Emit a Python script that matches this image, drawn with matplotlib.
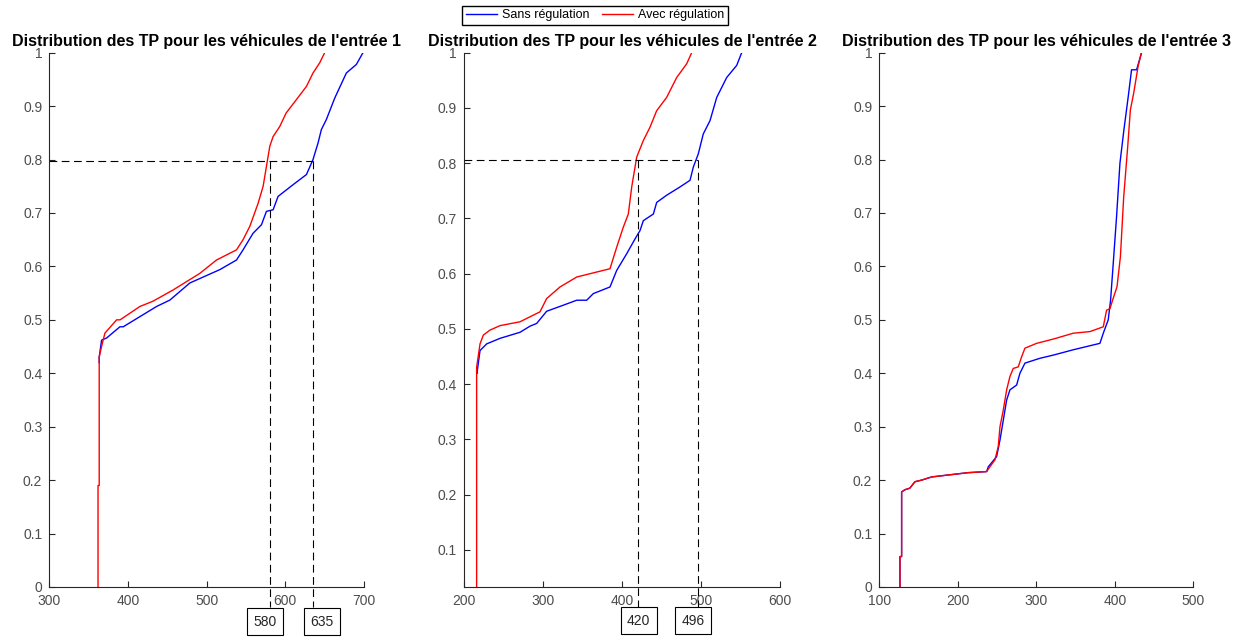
import numpy as np
import matplotlib.pyplot as plt

plt.rcParams['font.family'] = ['Liberation Sans', 'DejaVu Sans']

# Entrée 1
x1_sans = [363.5, 363.5, 366.5, 372.9, 389.8, 394, 415.2, 436.4, 453.3, 478.7, 516.8, 538, 546.3,
           559, 569.7, 576, 584.5, 590.8, 609.9, 626.9, 635.2, 641.6, 645.8, 652.2, 662.8, 677.6,
           690.3, 698.7]
y1_sans = [0.42, 0.43, 0.462, 0.466, 0.487, 0.487, 0.506, 0.525, 0.537, 0.569, 0.594, 0.612, 0.631,
           0.662, 0.678, 0.703, 0.706, 0.731, 0.753, 0.772, 0.80, 0.831, 0.856, 0.875, 0.915, 0.962,
           0.978, 1.0]
x1_avec = [362, 362, 363.5, 363.5, 366.5, 370.7, 385.6, 390, 415.2, 432, 457.5, 491.4, 512.6, 538,
           546.3, 554.9, 565.4, 571.8, 576, 580.3, 584.5, 593, 601, 614, 626.9, 635.2, 643.7, 650]
y1_avec = [0.0, 0.19, 0.19, 0.431, 0.45, 0.475, 0.5, 0.5, 0.525, 0.535, 0.556, 0.587, 0.612, 0.631,
           0.65, 0.675, 0.718, 0.75, 0.787, 0.825, 0.843, 0.862, 0.887, 0.912, 0.937, 0.962, 0.981, 1.0]

# Entrée 2
x2_sans = [216.9, 216.9, 220.3, 228.7, 245.6, 270.9, 283.5, 292, 304.6, 325.7, 342.7, 355.3, 363.7,
           384.8, 393.3, 405.9, 416.5, 422.8, 427, 439.7, 443.9, 456.5, 473.4, 486.1, 490.3, 496.6,
           502.9, 511.4, 519.9, 532.5, 545.2, 551.5]
y2_sans = [0.42, 0.425, 0.461, 0.473, 0.483, 0.494, 0.505, 0.51, 0.532, 0.543, 0.552, 0.552, 0.564,
           0.576, 0.606, 0.636, 0.663, 0.678, 0.696, 0.708, 0.729, 0.742, 0.757, 0.769, 0.793, 0.817,
           0.853, 0.877, 0.919, 0.955, 0.977, 1.0]
x2_avec = [216, 216, 220.3, 224.5, 233, 245.6, 270.9, 283.5, 296.2, 304.6, 321.5, 342.7, 359.5,
           384.8, 393.3, 401.6, 408, 412.3, 418.6, 427, 435.4, 443.9, 456.5, 469.2, 481.9, 488.2]
y2_avec = [0.0, 0.431, 0.473, 0.489, 0.498, 0.506, 0.513, 0.522, 0.531, 0.555, 0.576, 0.594, 0.6,
           0.609, 0.648, 0.684, 0.708, 0.757, 0.811, 0.841, 0.865, 0.895, 0.919, 0.955, 0.98, 1.0]

# Entrée 3
x3_sans = [126.4, 126.4, 128.5, 128.5, 132.7, 139, 145.4, 153.9, 166.8, 190.1, 213.4, 236.8, 238.9,
           249.5, 253.8, 258, 262.3, 266.5, 275, 279.2, 285.6, 304.6, 321.7, 347.2, 364.1, 381.1,
           385.4, 391.7, 394.7, 398.1, 402.3, 406.6, 411.7, 417.2, 421.4, 427.8, 434.2]
y3_sans = [0.0, 0.057, 0.057, 0.178, 0.182, 0.185, 0.197, 0.2, 0.206, 0.21, 0.214, 0.216, 0.225,
           0.244, 0.275, 0.312, 0.35, 0.369, 0.378, 0.4, 0.419, 0.428, 0.434, 0.444, 0.45, 0.456,
           0.475, 0.5, 0.537, 0.606, 0.693, 0.793, 0.856, 0.918, 0.968, 0.968, 1.0]
x3_avec = [126.4, 126.4, 128.5, 128.5, 132.7, 139, 145.4, 153.9, 166.8, 190.1, 213.4, 236.8, 241,
           247.4, 251.6, 253.8, 258, 262.3, 266.5, 270.7, 277.1, 281.4, 285.6, 300.5, 321.7, 347.2,
           368.4, 385.4, 389.6, 393.9, 397.3, 402.9, 407.2, 411.4, 416.5, 419.9, 424.1, 429.7, 433.9]
y3_avec = [0.0, 0.057, 0.057, 0.178, 0.182, 0.185, 0.197, 0.2, 0.206, 0.21, 0.214, 0.216, 0.225,
           0.238, 0.263, 0.3, 0.331, 0.369, 0.394, 0.409, 0.412, 0.431, 0.447, 0.456, 0.464, 0.475,
           0.478, 0.487, 0.518, 0.521, 0.537, 0.562, 0.618, 0.73, 0.824, 0.893, 0.924, 0.974, 1.0]

titres = ["Distribution des TP pour les véhicules de l'entrée 1",
          "Distribution des TP pour les véhicules de l'entrée 2",
          "Distribution des TP pour les véhicules de l'entrée 3"]
xlims = [(300, 700), (200, 600), (100, 500)]
ylims = [(0, 1), (0.033, 1), (0, 1)]

# seuils à 80 % : (niveau, t_avec, t_sans) et position des étiquettes
seuils = {0: (0.797, 580, 635), 1: (0.805, 420, 496)}
etiq_x = {0: (574.6, 647), 1: (421, 490)}
etiq_y = {0: -0.065, 1: -0.028}
bas_ligne = {0: -0.037, 1: -0.007}

fig = plt.figure(figsize=(12.5, 6.37), dpi=100)
positions = [[0.0394, 0.0785, 0.2518, 0.8388],
             [0.3712, 0.0785, 0.2528, 0.8388],
             [0.7034, 0.0785, 0.2512, 0.8388]]
donnees = [(x1_sans, y1_sans, x1_avec, y1_avec),
           (x2_sans, y2_sans, x2_avec, y2_avec),
           (x3_sans, y3_sans, x3_avec, y3_avec)]

gris = '#262626'
for i in range(3):
    ax = fig.add_axes(positions[i])
    xs, ys, xa, ya = donnees[i]
    l1, = ax.plot(xs, ys, color='blue', lw=1.0, label='Sans régulation')
    l2, = ax.plot(xa, ya, color='red', lw=1.0, label='Avec régulation')
    ax.set_xlim(*xlims[i])
    ax.set_ylim(*ylims[i])
    xt = np.arange(xlims[i][0], xlims[i][1] + 1, 100)
    ax.set_xticks(xt)
    ax.set_xticklabels([str(v) for v in xt])
    yt = [k / 10 for k in range(11) if k / 10 >= ylims[i][0]]
    ax.set_yticks(yt)
    ax.set_yticklabels(['%g' % v for v in yt])
    for s in ['top', 'right']:
        ax.spines[s].set_visible(False)
    for s in ['left', 'bottom']:
        ax.spines[s].set_color(gris)
        ax.spines[s].set_linewidth(0.8)
    ax.tick_params(direction='in', length=4, width=0.8, colors=gris, labelsize=10,
                   labelcolor='#4d4d4d', pad=5)
    ax.set_title(titres[i], fontsize=11.5, fontweight='bold', pad=5)

    if i in seuils:
        niv, ta, tsn = seuils[i]
        x0 = xlims[i][0]
        ax.plot([x0, tsn], [niv, niv], color='black', lw=0.8, dashes=(7, 4))
        for t in (ta, tsn):
            ax.plot([t, t], [niv, bas_ligne[i]], color='black', lw=0.8, dashes=(7, 4),
                    clip_on=False)
        for t, xe in zip((ta, tsn), etiq_x[i]):
            ax.text(xe, etiq_y[i], str(t), ha='center', va='center', fontsize=10,
                    color='#262626',
                    bbox=dict(boxstyle='square,pad=0.45', fc='white', ec='black', lw=0.8))

fig.legend(handles=[l1, l2], loc='upper center', bbox_to_anchor=(0.476, 0.995), ncol=2,
           fancybox=False, edgecolor='black', framealpha=1, fontsize=9,
           handlelength=2.5, borderpad=0.3, columnspacing=1.0, handletextpad=0.4,
           borderaxespad=0.2)

fig.savefig('out.png', dpi=100)
